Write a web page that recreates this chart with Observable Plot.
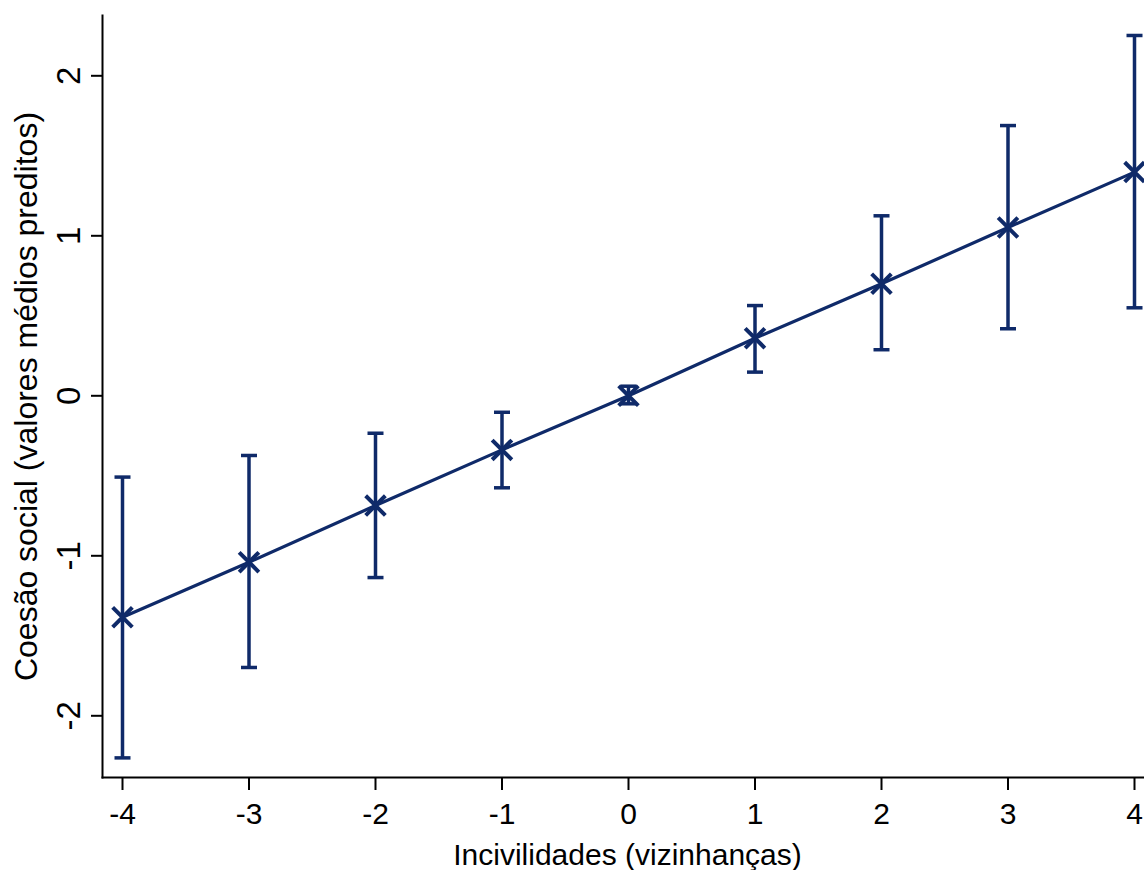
<!DOCTYPE html>
<html>
<head>
<meta charset="utf-8">
<script src="https://cdn.jsdelivr.net/npm/d3@7"></script>
<script src="https://cdn.jsdelivr.net/npm/@observablehq/plot@0.6"></script>
<style>
  html, body { margin: 0; padding: 0; background: #fff; }
  #chart svg { display: block; }
</style>
</head>
<body>
<div id="chart"></div>
<script>
const xValues = [-4, -3, -2, -1, 0, 1, 2, 3, 4];
const margins = [-1.384, -1.040, -0.686, -0.338, 0.000, 0.360, 0.700, 1.052, 1.398];
const ciLow   = [-2.263, -1.698, -1.136, -0.575, -0.050, 0.148, 0.288, 0.419, 0.550];
const ciHigh  = [-0.508, -0.373, -0.234, -0.103, 0.060, 0.564, 1.125, 1.689, 2.252];
const xTicks = [-4, -3, -2, -1, 0, 1, 2, 3, 4];
const yTicks = [-2, -1, 0, 1, 2];
const xTitle = "Incivilidades (vizinhanças)";
const yTitle = "Coesão social (valores médios preditos)";

const data = xValues.map((x, i) => ({x, y: margins[i], lo: ciLow[i], hi: ciHigh[i]}));
const color = "#0f2a69";
const capSymbol = {
  draw(context, size) {
    const r = Math.sqrt(size / Math.PI);
    context.moveTo(-r, 0);
    context.lineTo(r, 0);
  }
};
const fmt = d => String(d);

const chart = Plot.plot({
  width: 1144,
  height: 870,
  marginLeft: 102,
  marginRight: 0,
  marginTop: 15,
  marginBottom: 93,
  insetLeft: 20,
  insetRight: 10,
  insetTop: 60.3,
  insetBottom: 61.7,
  style: {fontFamily: "'Liberation Sans', Arial, sans-serif", fontSize: "30px", color: "#000", background: "#fff"},
  x: {domain: [-4, 4]},
  y: {domain: [-2, 2]},
  marks: [
    Plot.frame({anchor: "left", stroke: "#000", strokeWidth: 2}),
    Plot.frame({anchor: "bottom", stroke: "#000", strokeWidth: 2}),
    Plot.axisX({ticks: xTicks, tickFormat: fmt, tickSize: 13, tickPadding: 12, strokeWidth: 2, label: null, fontSize: 30}),
    Plot.axisY({ticks: yTicks, tickFormat: fmt, tickSize: 11, tickRotate: -90, tickPadding: 12, strokeWidth: 2, label: null, fontSize: 33}),
    Plot.ruleX(data, {x: "x", y1: "lo", y2: "hi", stroke: color, strokeWidth: 3.5}),
    Plot.dot(data, {x: "x", y: "lo", symbol: capSymbol, r: 8, stroke: color, strokeWidth: 3.5}),
    Plot.dot(data, {x: "x", y: "hi", symbol: capSymbol, r: 8, stroke: color, strokeWidth: 3.5}),
    Plot.line(data, {x: "x", y: "y", stroke: color, strokeWidth: 3.2}),
    Plot.dot(data, {x: "x", y: "y", symbol: "times", r: 9, stroke: color, strokeWidth: 4}),
    Plot.text([xTitle], {frameAnchor: "bottom", lineAnchor: "middle", textAnchor: "middle", dx: 4, dy: 78, text: d => d, fontSize: 30, fill: "#000"}),
    Plot.text([yTitle], {frameAnchor: "left", lineAnchor: "middle", textAnchor: "middle", dx: -76, rotate: -90, text: d => d, fontSize: 32, fill: "#000"})
  ]
});
document.getElementById("chart").appendChild(chart);
</script>
</body>
</html>
